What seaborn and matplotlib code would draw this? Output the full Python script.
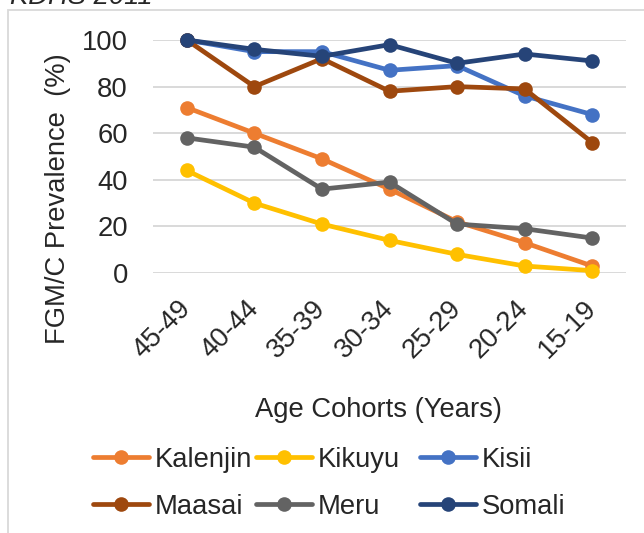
import matplotlib
matplotlib.use("Agg")
import matplotlib.pyplot as plt
import seaborn as sns
import pandas as pd
from matplotlib.patches import Rectangle

cohorts = ["45-49", "40-44", "35-39", "30-34", "25-29", "20-24", "15-19"]
groups = ["Kalenjin", "Kikuyu", "Kisii", "Maasai", "Meru", "Somali"]
kalenjin = [71, 60, 49, 36, 22, 13, 3]
kikuyu = [44, 30, 21, 14, 8, 3, 1]
kisii = [100, 95, 95, 87, 89, 76, 68]
maasai = [100, 80, 92, 78, 80, 79, 56]
meru = [58, 54, 36, 39, 21, 19, 15]
somali = [100, 96, 93, 98, 90, 94, 91]
yticks = [0, 20, 40, 60, 80, 100]
colors = ["#ED7D31", "#FFC000", "#4472C4", "#9E480E", "#636363", "#264478"]

series = [kalenjin, kikuyu, kisii, maasai, meru, somali]
rows = []
for g, vals in zip(groups, series):
    for c, v in zip(cohorts, vals):
        rows.append({"Cohort": c, "Value": v, "Group": g})
df = pd.DataFrame(rows)

sns.set_style("white")
plt.rcParams["font.family"] = ["Liberation Sans", "DejaVu Sans"]

FS = 19.7
W, H = 644, 533
fig = plt.figure(figsize=(W / 100, H / 100), dpi=100)

def fx(px):
    return px / W

def fy(py):
    return 1 - py / H

ax = fig.add_axes([fx(153), fy(273), fx(626) - fx(153), fy(40) - fy(273)])

sns.lineplot(data=df, x="Cohort", y="Value", hue="Group", hue_order=groups,
             palette=colors, marker="o", markersize=10.5, markeredgewidth=0,
             linewidth=3.4, sort=False, ax=ax, clip_on=False)

handles, labels = ax.get_legend_handles_labels()
if ax.get_legend() is not None:
    ax.get_legend().remove()

ax.set_xlim(-0.5, 6.5)
ax.set_ylim(0, 100)
ax.set_yticks(yticks)
ax.set_yticklabels([str(t) for t in yticks], fontsize=FS)
ax.set_xticks(range(len(cohorts)))
ax.set_xticklabels(cohorts, fontsize=FS, rotation=45, ha="right",
                   rotation_mode="anchor", va="center")
ax.tick_params(axis="x", length=0, pad=23)
ax.tick_params(axis="y", length=0, pad=18)
ax.grid(axis="y", color="#d9d9d9", linewidth=1.4)
ax.grid(axis="x", visible=False)
ax.set_axisbelow(True)
for s in ax.spines.values():
    s.set_visible(False)
ax.set_xlabel("")
ax.set_ylabel("")

fig.text(fx(58), fy(199), "FGM/C Prevalence  (%)", rotation=90, fontsize=FS,
         ha="center", va="center")
fig.text(fx(378), fy(410), "Age Cohorts (Years)", fontsize=FS,
         ha="center", va="center")
fig.text(fx(10), fy(4), "KDHS 2011", fontsize=FS, style="italic",
         ha="left", va="baseline")

# outer chart border
fig.patches.append(Rectangle((fx(8), -0.2), 1.2, fy(10) + 0.2,
                             transform=fig.transFigure, fill=False,
                             edgecolor="#d9d9d9", linewidth=1.3))

col_x = [93, 256, 420]
for ci in range(3):
    hs = [handles[ci], handles[ci + 3]]
    ls = [labels[ci], labels[ci + 3]]
    fig.legend(hs, ls, loc="upper left",
               bbox_to_anchor=(fx(col_x[ci]), fy(447)),
               frameon=False, fontsize=FS, handlelength=2.05,
               handletextpad=0.2, labelspacing=0.75,
               borderpad=0, borderaxespad=0)

fig.savefig("out.png", dpi=100)
